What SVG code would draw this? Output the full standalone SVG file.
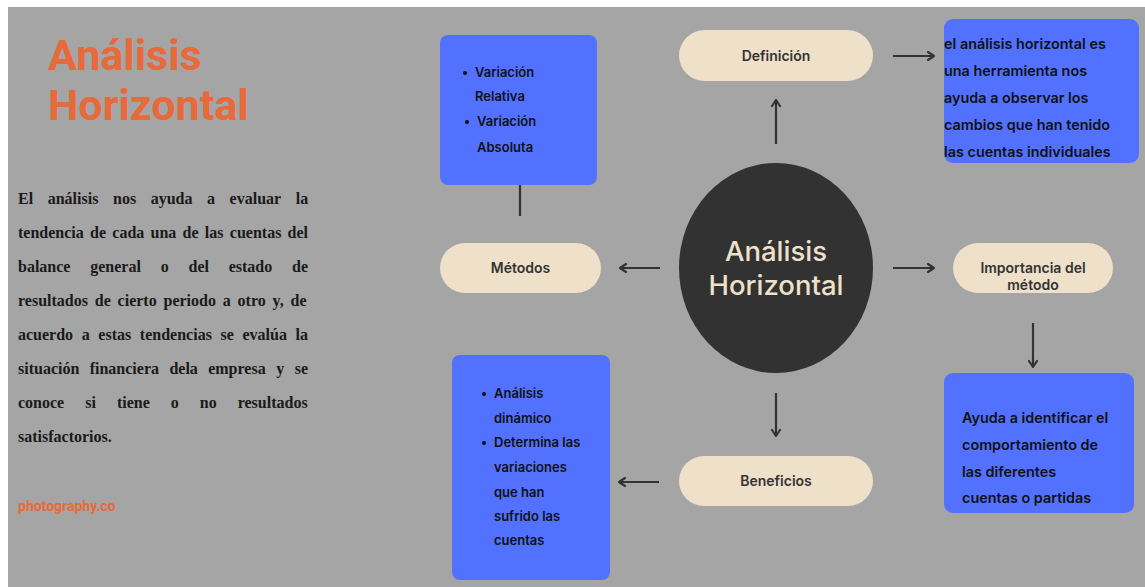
<svg xmlns="http://www.w3.org/2000/svg" width="1145" height="587" viewBox="0 0 1145 587">
  <style>
    .title { font-family: Roboto, "Liberation Sans", sans-serif; font-weight: 700; font-size: 43px; fill: #e8693a; }
    .para { font-family: "Liberation Serif", "Times New Roman", serif; font-weight: 700; font-size: 16px; fill: #1a1a1a; }
    .brand { font-family: Roboto, "Liberation Sans", sans-serif; font-weight: 700; font-size: 14px; fill: #e8693a; }
    .pill { fill: #efe0ca; }
    .pill-text { font-family: Inter, "Liberation Sans", sans-serif; font-weight: 600; font-size: 14px; fill: #333333; text-anchor: middle; }
    .box { fill: #5271ff; }
    .box-text { font-family: Inter, "Liberation Sans", sans-serif; font-weight: 600; font-size: 14.4px; fill: #111111; }
    .list-text { font-family: Inter, "Liberation Sans", sans-serif; font-weight: 600; font-size: 13px; fill: #111111; }
    .hub-text { font-family: Inter, "Liberation Sans", sans-serif; font-weight: 500; font-size: 27.5px; fill: #efe0ca; text-anchor: middle; }
    .link { stroke: #333333; stroke-width: 2.2; fill: none; }
    .arrow { marker-end: url(#head); }
  </style>
  <defs>
    <marker id="head" viewBox="0 0 10 10" refX="9" refY="5" markerWidth="10" markerHeight="10" markerUnits="userSpaceOnUse" orient="auto">
      <path d="M3,1 L9,5 L3,9" fill="none" stroke="#333333" stroke-width="2.2" stroke-linecap="round" stroke-linejoin="round"/>
    </marker>
  </defs>

  <!-- page -->
  <rect x="0" y="0" width="1145" height="587" fill="#ffffff"/>
  <rect x="8" y="7" width="1137" height="580" fill="#a5a5a5"/>

  <!-- heading and description -->
  <g id="heading">
    <text class="title" x="48" y="70">Análisis</text>
    <text class="title" x="48" y="120">Horizontal</text>
  </g>
  <!-- justified paragraph, 18..308 -->
  <g id="description" class="para">
    <text y="204"><tspan x="18">El</tspan><tspan x="47.7">análisis</tspan><tspan x="113">nos</tspan><tspan x="150.7">ayuda</tspan><tspan x="207">a</tspan><tspan x="229.6">evaluar</tspan><tspan x="295.7">la</tspan></text>
    <text x="18" y="238" word-spacing="2.26">tendencia de cada una de las cuentas del</text>
    <text y="272"><tspan x="18">balance</tspan><tspan x="90.2">general</tspan><tspan x="160.7">o</tspan><tspan x="188.5">del</tspan><tspan x="228.7">estado</tspan><tspan x="292">de</tspan></text>
    <text x="18" y="306" word-spacing="2.83">resultados de cierto periodo a otro y, de</text>
    <text x="18" y="340" word-spacing="4.63">acuerdo a estas tendencias se evalúa la</text>
    <text y="374"><tspan x="18">situación</tspan><tspan x="89.7">financiera</tspan><tspan x="169.4">dela</tspan><tspan x="208.2">empresa</tspan><tspan x="276.3">y</tspan><tspan x="294.7">se</tspan></text>
    <text y="408"><tspan x="18">conoce</tspan><tspan x="85.2">si</tspan><tspan x="116.9">tiene</tspan><tspan x="170.8">o</tspan><tspan x="199.8">no</tspan><tspan x="237.7">resultados</tspan></text>
    <text x="18" y="442">satisfactorios.</text>
  </g>
  <g id="brand">
    <text class="brand" x="18" y="511">photography.co</text>
  </g>

  <!-- connectors -->
  <g id="connectors">
    <line class="link" x1="520" y1="185" x2="520" y2="216"/>
    <line class="link arrow" x1="776" y1="144" x2="776" y2="100"/>
    <line class="link arrow" x1="893" y1="56" x2="934" y2="56"/>
    <line class="link arrow" x1="660" y1="268" x2="620" y2="268"/>
    <line class="link arrow" x1="893" y1="268" x2="934" y2="268"/>
    <line class="link arrow" x1="1033" y1="323" x2="1033" y2="367"/>
    <line class="link arrow" x1="776" y1="393" x2="776" y2="436"/>
    <line class="link arrow" x1="659" y1="482" x2="619" y2="482"/>
  </g>

  <!-- hub -->
  <g id="hub">
    <ellipse cx="776" cy="268" rx="97" ry="105" fill="#323232"/>
    <text class="hub-text" x="776" y="261">Análisis</text>
    <text class="hub-text" x="776" y="295">Horizontal</text>
  </g>

  <!-- topic pills -->
  <g id="definicion">
    <rect class="pill" x="679" y="30" width="194" height="51" rx="25.5"/>
    <text class="pill-text" x="776" y="61">Definición</text>
  </g>
  <g id="metodos">
    <rect class="pill" x="440" y="243" width="161" height="50" rx="25"/>
    <text class="pill-text" x="520.5" y="273">Métodos</text>
  </g>
  <g id="importancia">
    <rect class="pill" x="953" y="243" width="160" height="50" rx="25"/>
    <text class="pill-text" x="1033" y="273">Importancia del</text>
    <text class="pill-text" x="1033" y="290">método</text>
  </g>
  <g id="beneficios">
    <rect class="pill" x="679" y="456" width="194" height="50" rx="25"/>
    <text class="pill-text" x="776" y="486">Beneficios</text>
  </g>

  <!-- detail boxes -->
  <g id="metodos-detalle">
    <rect class="box" x="440" y="35" width="157" height="150" rx="8"/>
    <circle cx="465" cy="73" r="2" fill="#111111"/>
    <text class="list-text" x="475" y="77">Variación</text>
    <text class="list-text" x="475" y="101">Relativa</text>
    <circle cx="467" cy="122" r="2" fill="#111111"/>
    <text class="list-text" x="477" y="126">Variación</text>
    <text class="list-text" x="477" y="152">Absoluta</text>
  </g>
  <g id="definicion-detalle">
    <rect class="box" x="944" y="19" width="195" height="144" rx="9"/>
    <text class="box-text" x="944" y="49">el análisis horizontal es</text>
    <text class="box-text" x="944" y="76">una herramienta nos</text>
    <text class="box-text" x="944" y="103">ayuda a observar los</text>
    <text class="box-text" x="944" y="130">cambios que han tenido</text>
    <text class="box-text" x="944" y="157">las cuentas individuales</text>
  </g>
  <g id="importancia-detalle">
    <rect class="box" x="944" y="373" width="190" height="140" rx="9"/>
    <text class="box-text" x="962" y="423">Ayuda a identificar el</text>
    <text class="box-text" x="962" y="450">comportamiento de</text>
    <text class="box-text" x="962" y="477">las diferentes</text>
    <text class="box-text" x="962" y="503">cuentas o partidas</text>
  </g>
  <g id="beneficios-detalle">
    <rect class="box" x="452" y="355" width="158" height="225" rx="8"/>
    <circle cx="484" cy="394" r="2" fill="#111111"/>
    <text class="list-text" x="494" y="398">Análisis</text>
    <text class="list-text" x="494" y="423">dinámico</text>
    <circle cx="484" cy="443" r="2" fill="#111111"/>
    <text class="list-text" x="494" y="447">Determina las</text>
    <text class="list-text" x="494" y="472">variaciones</text>
    <text class="list-text" x="494" y="497">que han</text>
    <text class="list-text" x="494" y="521">sufrido las</text>
    <text class="list-text" x="494" y="545">cuentas</text>
  </g>
</svg>
